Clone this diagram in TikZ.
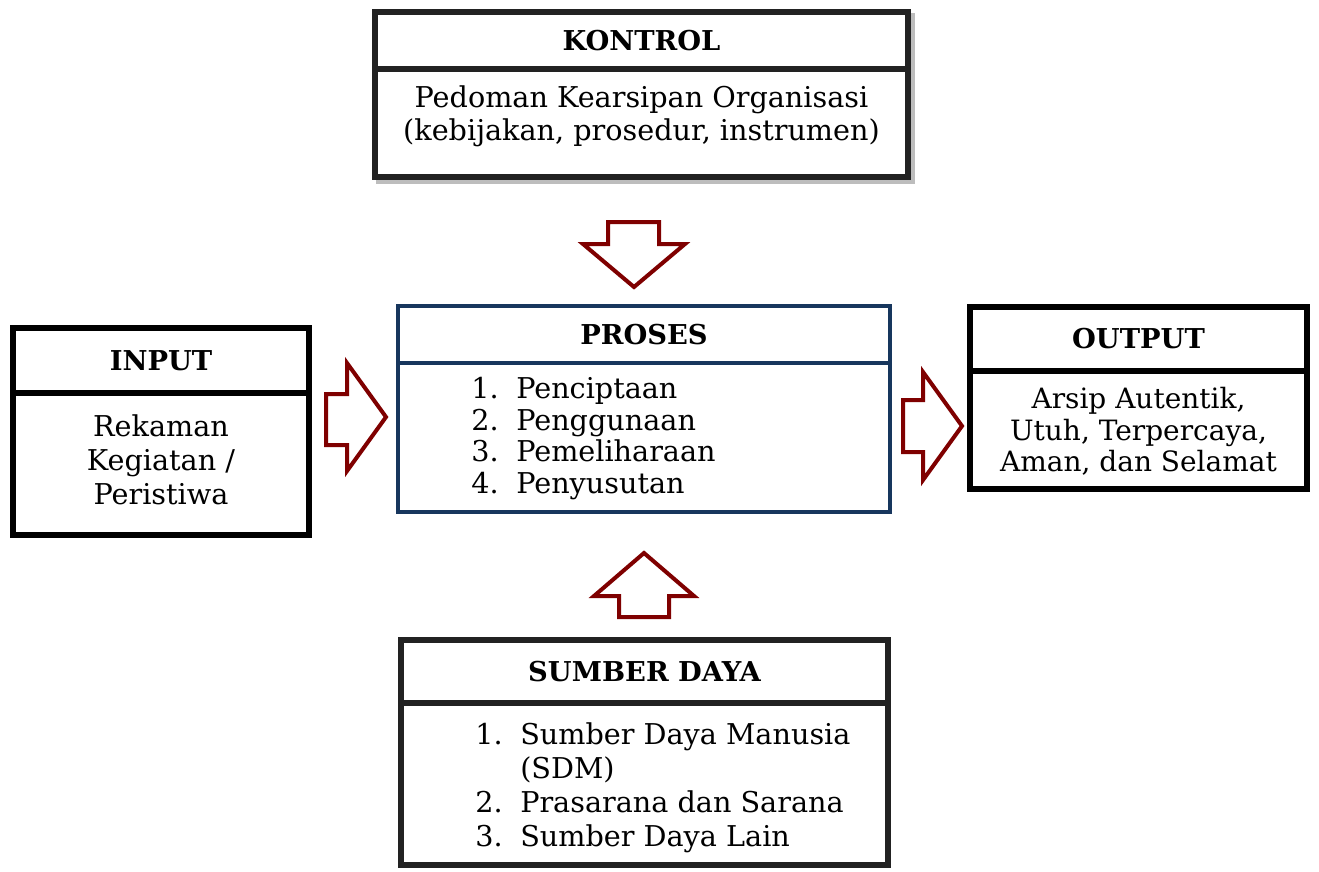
\documentclass[tikz,border=0pt]{standalone}
\usepackage{fontspec}
\setmainfont{DejaVu Serif}
\usetikzlibrary{backgrounds}
\definecolor{framedark}{HTML}{222222}
\definecolor{navy}{HTML}{17365D}
\definecolor{arrowred}{HTML}{7F0000}
\definecolor{shadowgrey}{HTML}{BDBDBD}
\begin{document}
\begin{tikzpicture}[x=0.75pt,y=-0.75pt,
  part/.style={draw, rectangle, fill=white, inner sep=0pt, outer sep=0pt, line join=miter},
  heavy/.style={part, draw=framedark, line width=5pt},
  plain/.style={part, draw=black, line width=4.2pt},
  blue/.style={part, draw=navy, line width=3.4pt},
  title/.style={font=\bfseries\fontsize{20.5}{25}\selectfont},
  bodytext/.style={inner sep=0pt, align=center, font=\fontsize{21.5}{#1}\selectfont},
  listtext/.style={inner sep=0pt, align=left, anchor=west, font=\fontsize{21.5}{#1}\selectfont},
  blockarrow/.style={draw=arrowred, fill=white, line width=3pt, line join=miter},
  dropshadow/.style={draw=shadowgrey, line width=4pt}
]
\useasboundingbox (0,0) rectangle (1319,871);

% KONTROL
\node[heavy, minimum width=399.75pt, minimum height=42.75pt, title] (kontrolH) at (641.5,40.5) {KONTROL};
\node[heavy, minimum width=399.75pt, minimum height=81pt] (kontrolB) at (641.5,123) {};
\node[bodytext=24.75pt] (kontrolT) at (641.5,116.5) {Pedoman Kearsipan Organisasi\\(kebijakan, prosedur, instrumen)};
\begin{scope}[on background layer]
  \draw[dropshadow] ([shift={(4,4)}]kontrolH.north west) rectangle ([shift={(4,4)}]kontrolB.south east);
\end{scope}

% INPUT
\node[plain, minimum width=222pt, minimum height=48.75pt, title] (inputH) at (161,360.5) {INPUT};
\node[plain, minimum width=222pt, minimum height=106.5pt] (inputB) at (161,464) {};
\node[bodytext=25.5pt] (inputT) at (161,460) {Rekaman\\Kegiatan /\\Peristiwa};

% PROSES
\node[blue, minimum width=369pt, minimum height=42.75pt, title] (prosesH) at (644,334.5) {PROSES};
\node[blue, minimum width=369pt, minimum height=111.75pt] (prosesB) at (644,437.5) {};
\node[listtext=23.8pt] (prosesT) at (471,438.5) {\makebox[33.75pt][l]{1.}Penciptaan\\\makebox[33.75pt][l]{2.}Penggunaan\\\makebox[33.75pt][l]{3.}Pemeliharaan\\\makebox[33.75pt][l]{4.}Penyusutan};

% OUTPUT
\node[plain, minimum width=252.75pt, minimum height=48pt, title] (outputH) at (1138.5,339) {OUTPUT};
\node[plain, minimum width=252.75pt, minimum height=88.5pt] (outputB) at (1138.5,430) {};
\node[bodytext=23.6pt, font=\fontsize{21}{23.6pt}\selectfont] (outputT) at (1138.5,431.5) {Arsip Autentik,\\Utuh, Terpercaya,\\Aman, dan Selamat};

% SUMBER DAYA
\node[heavy, minimum width=365.25pt, minimum height=47.25pt, title] (sumberH) at (644.5,671.5) {SUMBER DAYA};
\node[heavy, minimum width=365.25pt, minimum height=121.5pt] (sumberB) at (644.5,784) {};
\node[listtext=25.5pt] (sumberT) at (475,787.5) {\makebox[33.75pt][l]{1.}Sumber Daya Manusia\\\makebox[33.75pt][l]{}(SDM)\\\makebox[33.75pt][l]{2.}Prasarana dan Sarana\\\makebox[33.75pt][l]{3.}Sumber Daya Lain};

% block arrows between the boxes
\draw[blockarrow] (608,222) -- (659,222) -- (659,244) -- (685,244) -- (634,287) -- (583,244) -- (608,244) -- cycle;
\draw[blockarrow] (619,617) -- (669,617) -- (669,596) -- (694,596) -- (644,553) -- (594,596) -- (619,596) -- cycle;
\draw[blockarrow] (326,394) -- (347,394) -- (347,363) -- (386,417) -- (347,471) -- (347,445) -- (326,445) -- cycle;
\draw[blockarrow] (903,400) -- (923,400) -- (923,372) -- (962,426) -- (923,480) -- (923,452) -- (903,452) -- cycle;
\end{tikzpicture}
\end{document}
